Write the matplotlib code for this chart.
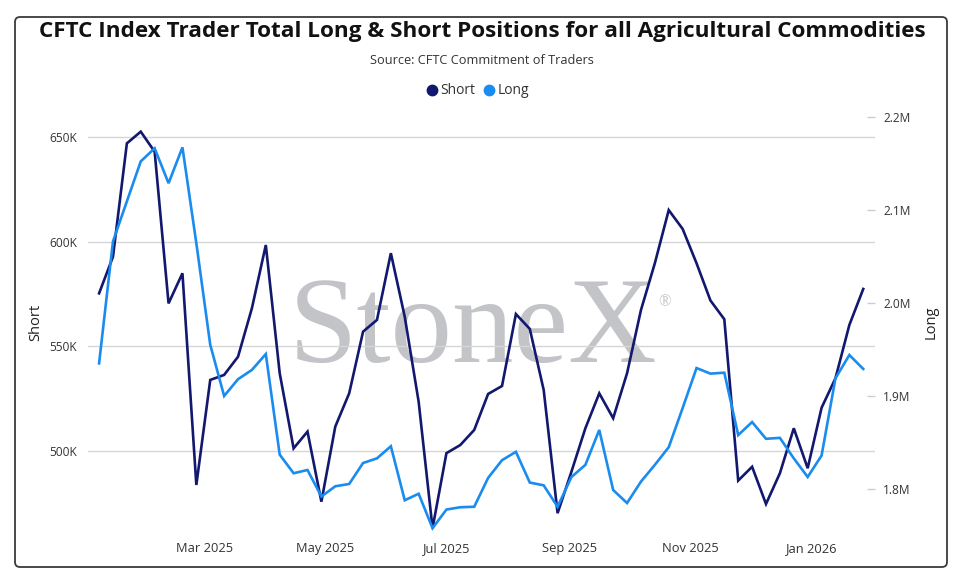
import matplotlib
matplotlib.use("Agg")
import matplotlib.pyplot as plt
import matplotlib.ticker as mticker
import matplotlib.dates as mdates
from matplotlib.patches import FancyBboxPatch
from matplotlib.lines import Line2D
from matplotlib.transforms import IdentityTransform
import pandas as pd

# weekly CFTC reports (Tuesdays)
dates = pd.date_range("2025-01-07", periods=56, freq="7D")

# index trader short positions, thousands of contracts
short_k = [575.4, 592.9, 647.1, 652.7, 643.1, 570.6, 585.0, 483.8, 534.0, 536.4,
           545.1, 568.3, 598.5, 537.2, 501.3, 509.3, 475.8, 511.7, 527.6, 557.1,
           562.7, 594.6, 564.2, 523.6, 463.1, 499.0, 502.9, 510.1, 527.3, 531.1,
           565.5, 558.4, 529.2, 470.3, 490.2, 510.9, 527.6, 515.7, 537.2, 567.4,
           589.8, 615.2, 606.2, 589.8, 572.0, 563.0, 485.9, 492.5, 474.7, 489.4,
           510.9, 491.8, 520.7, 534.8, 560.3, 577.5]

# index trader long positions, millions of contracts
long_m = [1.935, 2.066, 2.109, 2.152, 2.166, 2.1285, 2.167, 2.064, 1.955, 1.900,
          1.918, 1.928, 1.945, 1.837, 1.817, 1.8205, 1.792, 1.803, 1.8055, 1.828,
          1.833, 1.846, 1.788, 1.795, 1.758, 1.778, 1.7805, 1.781, 1.812, 1.831,
          1.840, 1.807, 1.804, 1.781, 1.813, 1.826, 1.8635, 1.799, 1.785, 1.808,
          1.826, 1.845, 1.887, 1.930, 1.924, 1.925, 1.858, 1.872, 1.854, 1.855,
          1.833, 1.813, 1.836, 1.919, 1.944, 1.929]

short_ticks = [500000, 550000, 600000, 650000]
long_ticks = [1800000, 1900000, 2000000, 2100000, 2200000]
month_ticks = pd.to_datetime(["2025-03-01", "2025-05-01", "2025-07-01",
                              "2025-09-01", "2025-11-01", "2026-01-01"])

SHORT_COLOR = "#12186e"
LONG_COLOR = "#1a8cf0"
TEXT = "#333333"
W, H = 966, 572

plt.rcParams["font.family"] = ["Open Sans", "DejaVu Sans"]

fig = plt.figure(figsize=(W / 100, H / 100), dpi=100)
fig.patch.set_facecolor("white")

# plot area in pixels: x 88..875, y 108..536
left, right, top, bottom = 88, 875, 108, 536
ax = fig.add_axes([left / W, (H - bottom) / H, (right - left) / W, (bottom - top) / H])
ax.patch.set_visible(False)
ax2 = ax.twinx()

ax.plot(dates, [v * 1000 for v in short_k], color=SHORT_COLOR, lw=1.9,
        solid_joinstyle="miter", zorder=3)
ax2.plot(dates, [v * 1e6 for v in long_m], color=LONG_COLOR, lw=1.9,
         solid_joinstyle="miter", zorder=3)

ax.set_xlim(pd.Timestamp("2025-01-01 10:00"), pd.Timestamp("2026-02-01 22:00"))
ax.set_ylim(459400, 664000)
ax2.set_ylim(1749600, 2209300)

ax.set_yticks(short_ticks)
ax.yaxis.set_major_formatter(mticker.FuncFormatter(lambda v, p: f"{v / 1000:.0f}K"))
ax2.set_yticks(long_ticks)
ax2.yaxis.set_major_formatter(mticker.FuncFormatter(lambda v, p: f"{v / 1e6:.1f}M"))

ax.set_xticks(month_ticks)
ax.xaxis.set_major_formatter(mdates.DateFormatter("%b %Y"))

ax.grid(axis="y", color="#d6d6d6", lw=1)
ax.set_axisbelow(True)
for a in (ax, ax2):
    for s in a.spines.values():
        s.set_visible(False)

ax.tick_params(axis="y", length=0, pad=8, labelsize=8.6, labelcolor=TEXT)
ax.tick_params(axis="x", length=0, pad=4.5, labelsize=9.3, labelcolor=TEXT)
ax2.tick_params(axis="y", length=6, width=1, color="#cccccc", direction="in",
                pad=6, labelsize=8.6, labelcolor=TEXT)

ax.set_ylabel("Short", fontsize=10.5, color="#222222", labelpad=4)
ax2.set_ylabel("Long", fontsize=10.5, color="#222222", labelpad=9)

fig.text(482 / W, 1 - 31 / H, "CFTC Index Trader Total Long & Short Positions for all Agricultural Commodities",
         ha="center", va="center", fontsize=16.2, fontweight="bold", color="#111111")
fig.text(482 / W, 1 - 60 / H, "Source: CFTC Commitment of Traders",
         ha="center", va="center", fontsize=9.2, color=TEXT)

handles = [Line2D([], [], ls="none", marker="o", ms=7.5, color=SHORT_COLOR),
           Line2D([], [], ls="none", marker="o", ms=7.5, color=LONG_COLOR)]
fig.legend(handles, ["Short", "Long"], loc="center", bbox_to_anchor=(478 / W, 1 - 91 / H),
           ncol=2, frameon=False, handlelength=0.8, handletextpad=0.2,
           columnspacing=0.6, fontsize=10, labelcolor=TEXT)

# watermark under the grid
fig.text(289 / W, 1 - 362 / H, "StoneX", ha="left", va="baseline",
         family=["Liberation Serif", "DejaVu Serif"], fontsize=88.5,
         color="#c3c4c7", zorder=-1)
fig.text(658 / W, 1 - 302 / H, "\u00ae", ha="left", va="center",
         family=["Liberation Serif", "DejaVu Serif"], fontsize=12,
         color="#c3c4c7", zorder=-1)

frame = FancyBboxPatch((15, H - 567), 932, 550, boxstyle="round,pad=0,rounding_size=5",
                       transform=IdentityTransform(), facecolor="none",
                       edgecolor="#3a3a3a", lw=1.3)
fig.patches.append(frame)

fig.savefig("out.png", dpi=100)
